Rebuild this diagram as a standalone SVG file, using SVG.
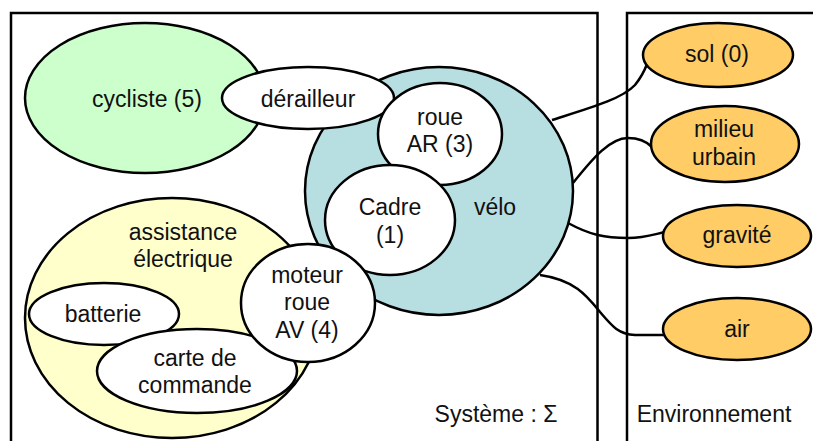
<svg xmlns="http://www.w3.org/2000/svg" width="813" height="441" viewBox="0 0 813 441">
  <style>
    .frame { fill: none; stroke: #000; stroke-width: 2.5; }
    .shape { stroke: #000; stroke-width: 2.5; }
    .white { fill: #ffffff; }
    .green { fill: #ccffcc; }
    .yellow { fill: #ffffcc; }
    .blue { fill: #b7dfe2; }
    .orange { fill: #ffcc66; }
    .link { fill: none; stroke: #000; stroke-width: 2.5; }
    text { font-family: "Liberation Sans", Arial, sans-serif; font-size: 23px; fill: #111; text-anchor: middle; }
  </style>
  <rect width="813" height="441" fill="#ffffff"/>

  <!-- system and environment boundaries -->
  <g id="system-frame">
    <path class="frame" d="M11,445 V13 H597.5 V445"/>
    <text x="496" y="422">Système : Σ</text>
  </g>
  <g id="environment-frame">
    <path class="frame" d="M627,445 V13 H820"/>
    <text x="714" y="422">Environnement</text>
  </g>

  <!-- links from the bike to its environment -->
  <g id="connectors">
    <path class="link" d="M552,120 C590,108 622,99 635,85 Q643,75 647,64"/>
    <path class="link" d="M573,183 C593,158 610,138 628,138 C640,138 647,142 652,147"/>
    <path class="link" d="M568,223 C590,235 605,238 628,238 C645,238 655,234 665,232"/>
    <path class="link" d="M540,275 C575,280 587,296 600,312 C612,326 618,334 635,335 L665,335"/>
  </g>

  <g id="cycliste">
    <ellipse class="shape green" cx="145" cy="98" rx="120" ry="75"/>
    <text x="147" y="107">cycliste (5)</text>
  </g>

  <g id="velo">
    <ellipse class="shape blue" cx="439" cy="191" rx="134" ry="124"/>
    <text x="495" y="215">vélo</text>
  </g>

  <g id="derailleur">
    <ellipse class="shape white" cx="308" cy="98" rx="86" ry="31"/>
    <text x="308" y="107">dérailleur</text>
  </g>

  <g id="roue-ar">
    <ellipse class="shape white" cx="440" cy="134" rx="62" ry="51"/>
    <text x="440" y="125">roue</text>
    <text x="440" y="152">AR (3)</text>
  </g>

  <g id="cadre">
    <ellipse class="shape white" cx="390" cy="220" rx="65" ry="55"/>
    <text x="390" y="215">Cadre</text>
    <text x="390" y="243">(1)</text>
  </g>

  <g id="assistance">
    <ellipse class="shape yellow" cx="172" cy="318" rx="147" ry="120"/>
    <text x="183" y="240">assistance</text>
    <text x="183" y="267">électrique</text>
  </g>

  <g id="batterie">
    <ellipse class="shape white" cx="104" cy="314" rx="75" ry="31"/>
    <text x="103" y="322">batterie</text>
  </g>

  <g id="carte-commande">
    <ellipse class="shape white" cx="197" cy="371" rx="100" ry="42"/>
    <text x="195" y="366">carte de</text>
    <text x="195" y="393">commande</text>
  </g>

  <g id="moteur-roue-av">
    <ellipse class="shape white" cx="308" cy="303" rx="67" ry="59"/>
    <text x="307" y="283">moteur</text>
    <text x="307" y="310">roue</text>
    <text x="307" y="338">AV (4)</text>
  </g>

  <g id="sol">
    <ellipse class="shape orange" cx="718" cy="55" rx="75" ry="32"/>
    <text x="717" y="62">sol (0)</text>
  </g>

  <g id="milieu-urbain">
    <ellipse class="shape orange" cx="725" cy="144" rx="74" ry="38"/>
    <text x="724" y="137">milieu</text>
    <text x="724" y="165">urbain</text>
  </g>

  <g id="gravite">
    <ellipse class="shape orange" cx="737" cy="236" rx="74" ry="31"/>
    <text x="737" y="243">gravité</text>
  </g>

  <g id="air">
    <ellipse class="shape orange" cx="737" cy="329" rx="74" ry="31"/>
    <text x="737" y="337">air</text>
  </g>
</svg>
